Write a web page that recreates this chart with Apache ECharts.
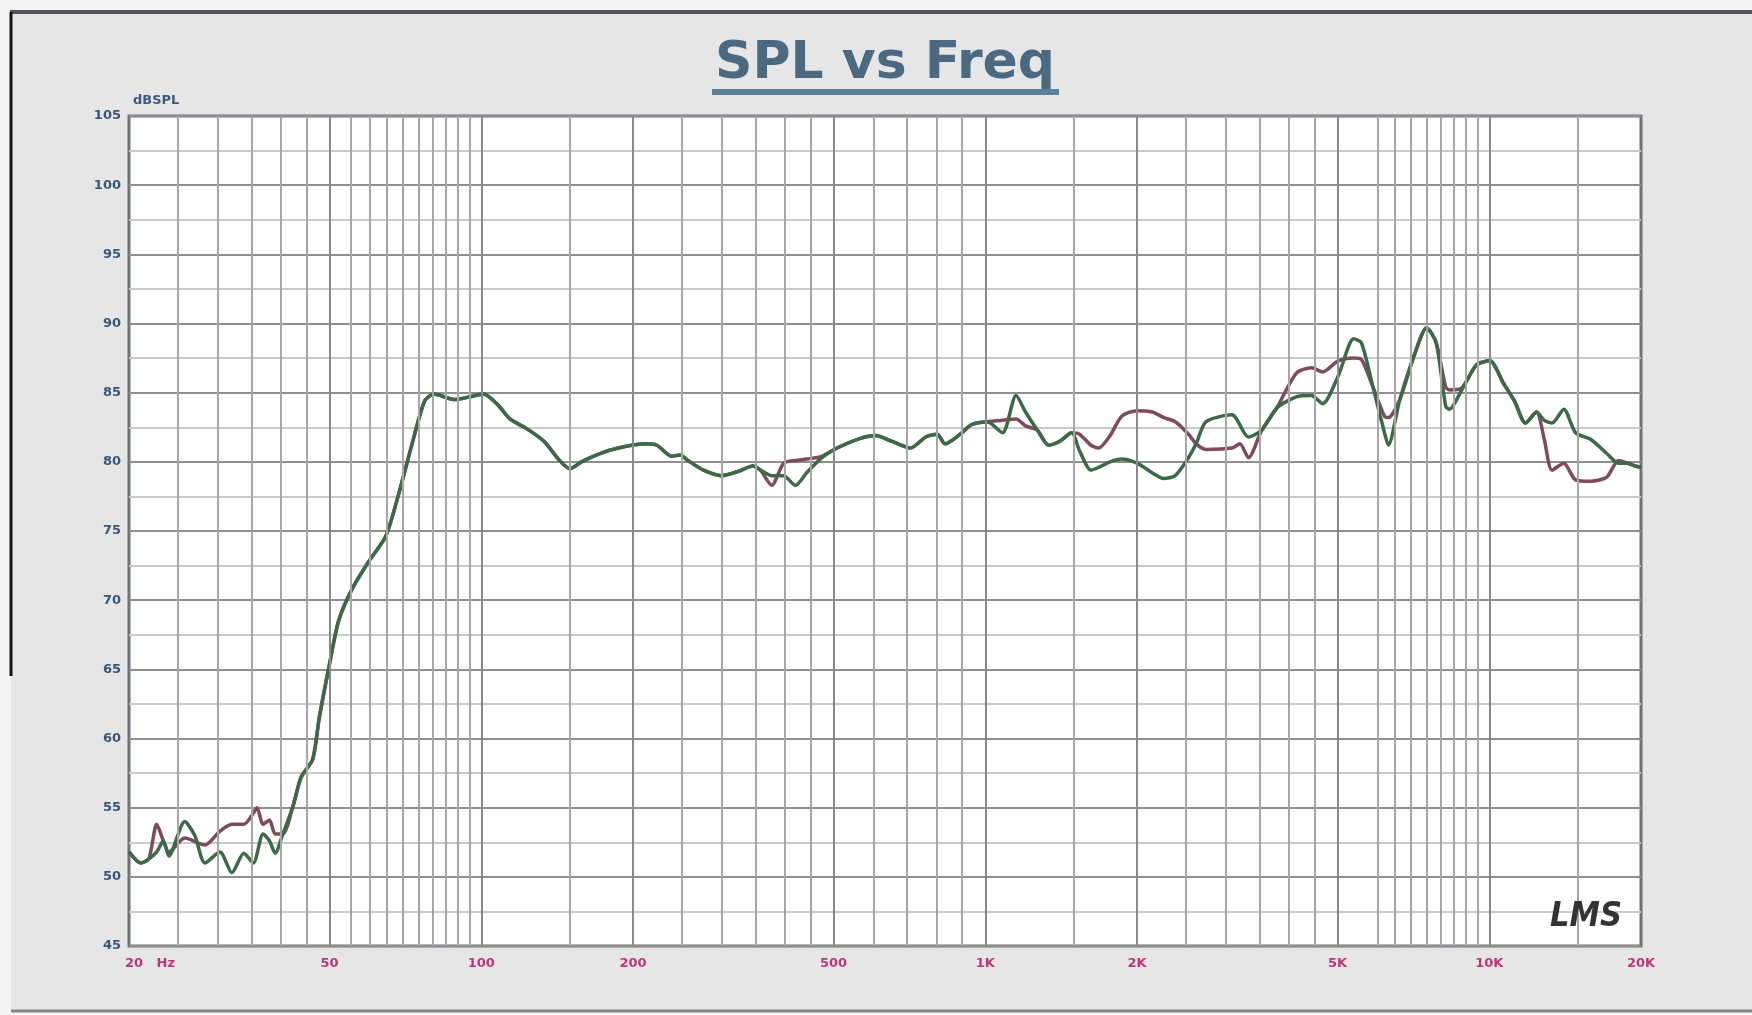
<!DOCTYPE html>
<html><head><meta charset="utf-8">
<script src="https://cdn.jsdelivr.net/npm/echarts@6/dist/echarts.min.js"></script>
<style>html,body{margin:0;padding:0;background:#f4f4f4;}#c{width:1752px;height:1015px;}</style>
</head><body><div id="c"></div>
<script>
// ---- tick labels ----
const xLabelValues = [20, 50, 100, 200, 500, 1000, 2000, 5000, 10000, 20000];
const xLabelTexts  = ['20   Hz', '50', '100', '200', '500', '1K', '2K', '5K', '10K', '20K'];
const yMin = 45, yMax = 105, yStep = 5;
// ---- vertical grid frequencies ----
const gridMajorFreq = [50, 100, 200, 500, 1000, 2000, 5000, 10000];
const gridMinorFreq = [25, 30, 35, 40, 45, 55, 60, 65, 70, 75, 80, 85, 90, 95,
  150, 250, 300, 350, 400, 450, 600, 700, 800, 900,
  1500, 2500, 3000, 3500, 4000, 4500, 6000, 6500, 7000, 7500, 8000, 8500, 9000, 9500, 15000];

// ---- green curve ----
const greenFreq = [20, 21.1, 21.9, 22.7, 23.4, 24.0, 25.8, 27.0, 28.3, 30.3, 32.0, 33.8, 35.3, 36.9, 38.0, 39.0, 40.4,
  42.3, 43.9, 46.3, 47.7, 50.0, 52.1, 55.4, 59.8, 64.6, 68.6, 72.9, 77.2, 80.6, 88.5, 95, 101, 108, 114, 123, 133,
  143, 150, 158, 172, 187, 212, 223, 239, 248, 257, 276, 300, 323, 346, 358, 377, 398, 420, 442, 474, 508, 565, 606,
  651, 710, 762, 803, 832, 892, 940, 1009, 1082, 1151, 1202, 1268, 1336, 1408, 1484, 1538, 1621, 1678, 1769, 1865,
  2000, 2146, 2260, 2382, 2530, 2620, 2742, 3086, 3328, 3537, 3789, 4139, 4437, 4670, 5014, 5383, 5576, 5879, 6196,
  6307, 6645, 7128, 7511, 7847, 8197, 8340, 8790, 9428, 10025, 10660, 11218, 11800, 12410, 12860, 13320, 14060,
  14830, 15930, 17110, 18040, 18830, 19480, 20000];
const greenDb = [51.8, 51.0, 51.3, 51.8, 52.6, 51.5, 54.0, 53.0, 51.0, 51.8, 50.3, 51.7, 51.0, 53.1, 52.6, 51.7, 53.1,
  55.1, 57.2, 58.5, 61.5, 65.4, 68.5, 70.8, 72.8, 74.6, 77.7, 81.3, 84.4, 84.9, 84.5, 84.7, 84.9, 84.1, 83.1, 82.4, 81.5,
  80.1, 79.5, 80.0, 80.6, 81.0, 81.3, 81.2, 80.4, 80.5, 80.1, 79.4, 79.0, 79.3, 79.7, 79.4, 79.0, 79.0, 78.3, 79.2, 80.3, 81.0, 81.7, 81.9,
  81.5, 81.0, 81.8, 82.0, 81.3, 82.0, 82.7, 82.9, 82.1, 84.8, 83.6, 82.3, 81.2, 81.5, 82.1, 80.8, 79.4, 79.6, 80.0, 80.2,
  79.9, 79.2, 78.8, 79.0, 80.3, 81.3, 82.9, 83.4, 81.8, 82.3, 83.9, 84.7, 84.8, 84.2, 86.2, 88.9, 88.6, 85.4, 82.1,
  81.2, 84.5, 87.9, 89.7, 88.6, 84.0, 83.8, 85.1, 87.0, 87.3, 85.7, 84.4, 82.8, 83.6, 83.0, 82.8, 83.8,
  82.1, 81.6, 80.6, 79.9, 79.9, 79.7, 79.6];

// ---- red curve ----
const redFreq = [20, 21.1, 21.9, 22.7, 23.4, 24.0, 25.8, 28.3, 30.3, 32.0, 33.8, 35.3, 35.9, 36.9, 38.0, 39.0, 40.4,
  42.3, 43.9, 46.3, 47.7, 50.0, 52.1, 55.4, 59.8, 64.6, 68.6, 72.9, 77.2, 80.6, 88.5, 95, 101, 108, 114, 123, 133,
  143, 150, 158, 172, 187, 212, 223, 239, 248, 257, 276, 300, 323, 346, 358, 377, 398, 420, 442, 474, 508, 565, 606,
  651, 710, 762, 803, 832, 892, 940, 1009, 1082, 1151, 1202, 1268, 1336, 1408, 1484, 1538, 1621, 1678, 1769, 1865,
  2000, 2146, 2260, 2382, 2530, 2620, 2742, 3086, 3200, 3328, 3537, 3789, 4139, 4437, 4670, 5014, 5383, 5576, 5879, 6196,
  6307, 6645, 7128, 7511, 7847, 8197, 8340, 8790, 9428, 10025, 10660, 11218, 11800, 12410, 12860, 13320, 14060,
  14830, 15930, 17110, 18040, 18830, 19480, 20000];
const redDb = [51.8, 51.0, 51.3, 53.8, 52.6, 51.8, 52.8, 52.3, 53.3, 53.8, 53.8, 54.6, 55.0, 53.8, 54.1, 53.1, 53.1,
  55.1, 57.2, 58.5, 61.5, 65.4, 68.5, 70.8, 72.8, 74.6, 77.7, 81.3, 84.4, 84.9, 84.5, 84.7, 84.9, 84.1, 83.1, 82.4, 81.5,
  80.1, 79.5, 80.0, 80.6, 81.0, 81.3, 81.2, 80.4, 80.5, 80.1, 79.4, 79.0, 79.3, 79.7, 79.4, 78.3, 79.9, 80.1, 80.2, 80.4, 81.0, 81.7, 81.9,
  81.5, 81.0, 81.8, 82.0, 81.3, 82.0, 82.7, 82.9, 83.0, 83.1, 82.6, 82.3, 81.2, 81.5, 82.1, 82.0, 81.2, 81.0, 81.9, 83.3,
  83.7, 83.6, 83.2, 82.9, 82.0, 81.3, 80.9, 81.0, 81.3, 80.3, 82.3, 83.9, 86.4, 86.8, 86.5, 87.3, 87.5, 87.4, 85.4, 83.3,
  83.2, 84.5, 87.9, 89.7, 88.6, 85.4, 85.2, 85.3, 87.0, 87.3, 85.7, 84.4, 82.8, 83.6, 81.6, 79.4, 79.9,
  78.7, 78.6, 78.9, 80.1, 79.9, 79.7, 79.6];

const zip = (f, d) => f.map((v, i) => [v, d[i]]);
const labelMap = {};
xLabelValues.forEach((v, i) => { labelMap[v] = xLabelTexts[i]; });
const labelFont = 'DejaVu Sans';

const chart = echarts.init(document.getElementById('c'), null, {renderer: 'canvas'});
const option = {
  animation: false,
  backgroundColor: 'transparent',
  graphic: [
    {type: 'rect', z: -10, shape: {x: 11, y: 12, width: 1741, height: 999}, style: {fill: '#e6e6e6'}},
    {type: 'line', z: -9, shape: {x1: 10, y1: 12, x2: 1752, y2: 12}, style: {stroke: '#505456', lineWidth: 4}},
    {type: 'line', z: -9, shape: {x1: 11, y1: 12, x2: 11, y2: 676}, style: {stroke: '#151515', lineWidth: 3}},
    {type: 'line', z: -9, shape: {x1: 11, y1: 1011, x2: 1752, y2: 1011}, style: {stroke: '#858585', lineWidth: 3}},
    {type: 'text', z: 5, x: 885, y: 64, style: {text: 'SPL vs Freq', fill: '#4b6a81', font: 'bold 52px "DejaVu Sans"', textAlign: 'center', textVerticalAlign: 'middle'}},
    {type: 'rect', z: 5, shape: {x: 712, y: 89, width: 347, height: 6}, style: {fill: '#5a8198'}},
    {type: 'text', z: 20, x: 1586, y: 917, style: {text: 'LMS', fill: '#333', font: 'italic bold 34px "DejaVu Sans Condensed", "DejaVu Sans"', textAlign: 'center', textVerticalAlign: 'middle'}}
  ],
  grid: {left: 129, top: 116, width: 1512, height: 830, show: true, backgroundColor: '#ffffff', borderColor: '#6b7378', borderWidth: 3, z: 0},
  xAxis: {
    type: 'log', logBase: 10, min: 20, max: 20000,
    axisLine: {show: false}, axisTick: {show: false}, splitLine: {show: false},
    axisLabel: {
      customValues: xLabelValues, margin: 11,
      color: '#bd3675', fontSize: 13, fontWeight: 'bold', fontFamily: labelFont,
      formatter: v => v === 20 ? '{h|' + labelMap[v] + '}' : (labelMap[v] || ''),
      rich: {h: {padding: [0, 0, 0, 42], color: '#bd3675', fontSize: 13, fontWeight: 'bold', fontFamily: labelFont}}
    }
  },
  yAxis: {
    type: 'value', min: yMin, max: yMax, interval: yStep,
    name: 'dBSPL', nameLocation: 'end', nameGap: 9,
    nameTextStyle: {color: '#3a5b80', fontSize: 13, fontWeight: 'bold', align: 'left', fontFamily: labelFont, padding: [0, 0, 0, 4]},
    axisLine: {show: false}, axisTick: {show: false},
    axisLabel: {color: '#36587a', fontSize: 13, fontWeight: 'bold', margin: 8, fontFamily: labelFont},
    splitLine: {show: true, lineStyle: {color: '#8e8e8e', width: 2}},
    minorTick: {show: false, splitNumber: 2},
    minorSplitLine: {show: true, lineStyle: {color: '#c9c9c9', width: 2}}
  },
  series: [
    {
      type: 'line', data: [], z: 1, silent: true,
      markLine: {
        silent: true, symbol: 'none', label: {show: false}, animation: false,
        data: gridMinorFreq.map(f => ({xAxis: f, lineStyle: {color: '#a6a6a6', width: 2, type: 'solid'}}))
          .concat(gridMajorFreq.map(f => ({xAxis: f, lineStyle: {color: '#8a8a8a', width: 2, type: 'solid'}})))
      }
    },
    {name: 'red', type: 'line', z: 3, data: zip(redFreq, redDb), showSymbol: false, smooth: 0.25,
      lineStyle: {color: '#7e4a5c', width: 3.5}},
    {name: 'green', type: 'line', z: 4, data: zip(greenFreq, greenDb), showSymbol: false, smooth: 0.25,
      lineStyle: {color: '#3b6b46', width: 3.5}}
  ]
};
chart.setOption(option);
</script>
</body></html>
